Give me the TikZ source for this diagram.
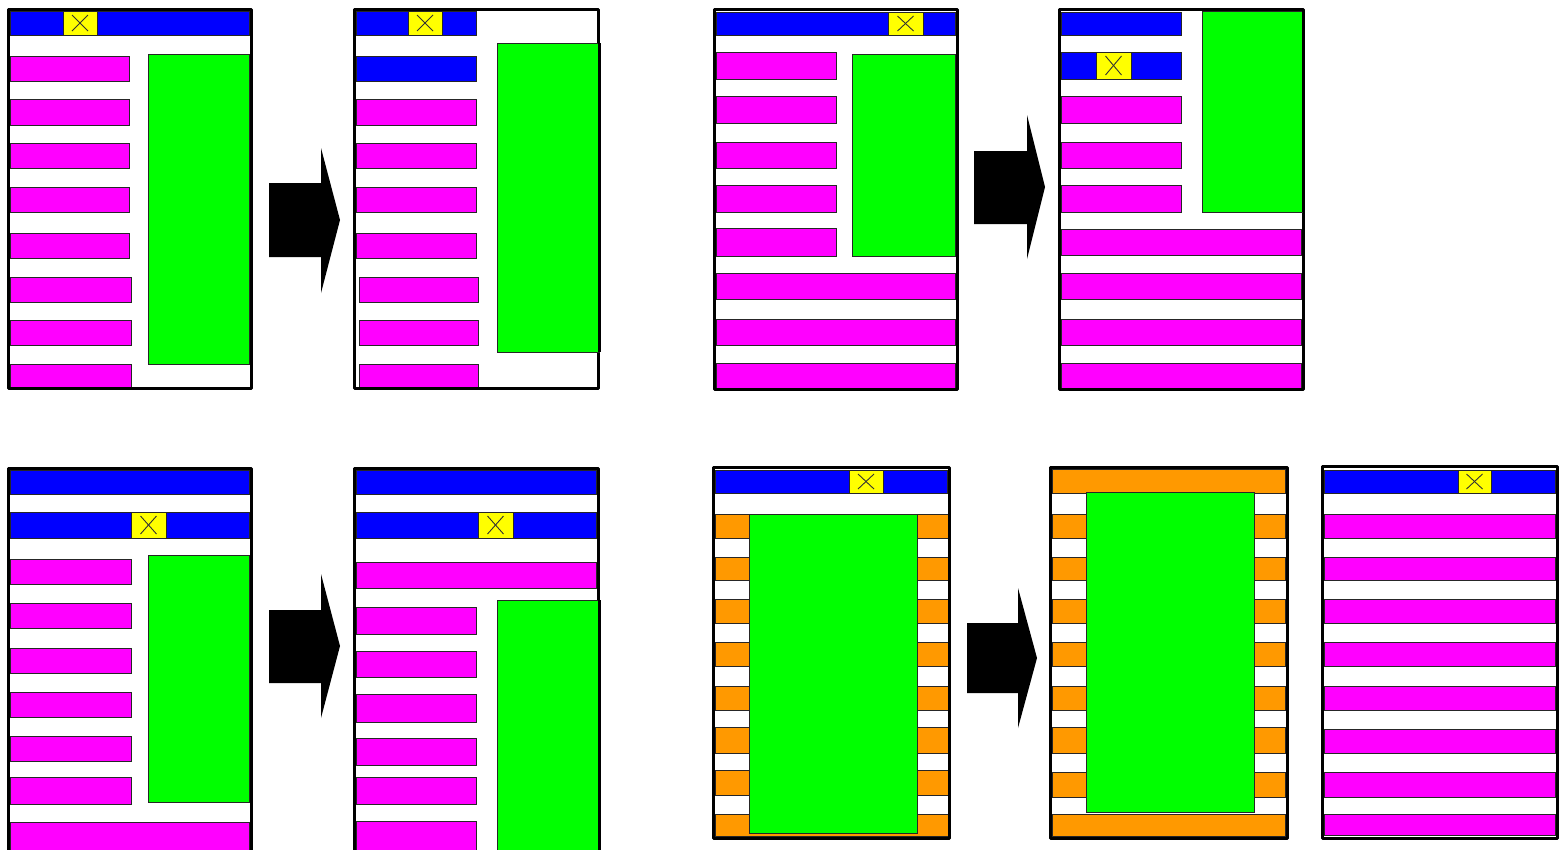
\documentclass[tikz,border=0pt]{standalone}
\usepackage{tikz}
\definecolor{cblue}{RGB}{0,0,255}
\definecolor{cmag}{RGB}{255,0,255}
\definecolor{cgreen}{RGB}{0,255,0}
\definecolor{cyel}{RGB}{255,255,0}
\definecolor{corange}{RGB}{255,153,0}
\tikzset{
  panelframe/.style={draw=black,line width=3pt,line join=round},
  panelbg/.style={fill=white},
  cell/.style={draw=black!85,line width=1pt},
  bluebar/.style={cell,fill=cblue},
  magbar/.style={cell,fill=cmag},
  greenbox/.style={cell,fill=cgreen},
  orangebar/.style={cell,fill=corange},
  closebox/.style={cell,fill=cyel},
  closecross/.style={draw=black!80,line width=0.9pt},
  greenedge/.style={draw=black,line width=3pt},
  blockarrow/.style={fill=black,draw=none}
}
\newcommand\myrect[5]{\path[#1] (#2,#3) rectangle (#4,#5);}
\newcommand\myclose[4]{%
  \path[closebox] (#1,#2) rectangle (#3,#4);
  \draw[closecross] ({(#1+#3)/2-8},{#2+4}) -- ({(#1+#3)/2+8},{#4-4});
  \draw[closecross] ({(#1+#3)/2-8},{#4-4}) -- ({(#1+#3)/2+8},{#2+4});}
\newcommand\myarrow[8]{%
  \path[blockarrow] (#1,#3) -- (#2,#3) -- (#2,#5) -- (#7,#8) -- (#2,#6) -- (#2,#4) -- (#1,#4) -- cycle;}
\begin{document}
\begin{tikzpicture}[x=1pt,y=-1pt]
\clip (0,0) rectangle (1562,849);
\fill[white] (0,0) rectangle (1562,849);

% ---------- Panel 1 ----------
\myrect{panelbg}{8}{9}{251}{388}
\myrect{bluebar}{10}{11}{249}{35}
\myclose{63}{11}{97}{35}
\foreach \a/\b in {56/81,99/125,143/168,187/212,233/258}{\myrect{magbar}{10}{\a}{129}{\b}}
\foreach \a/\b in {277/302,320/345,364/387}{\myrect{magbar}{10}{\a}{131}{\b}}
\myrect{greenbox}{148}{54}{249}{364}
\myrect{panelframe}{8}{9}{251}{388}

% ---------- Panel 2 ----------
\myrect{panelbg}{354}{9}{598}{388}
\myrect{bluebar}{356}{11}{476}{35}
\myclose{408}{11}{442}{35}
\myrect{bluebar}{356}{56}{476}{81}
\foreach \a/\b in {99/125,143/168,187/212,233/258}{\myrect{magbar}{356}{\a}{476}{\b}}
\foreach \a/\b in {277/302,320/345,364/387}{\myrect{magbar}{359}{\a}{478}{\b}}
\myrect{panelframe}{354}{9}{598}{388}
\myrect{greenbox}{497}{43}{599}{352}
\draw[greenedge] (599,43) -- (599,352);

% ---------- Panel 3 ----------
\myrect{panelbg}{714}{9}{957}{389}
\myrect{bluebar}{716}{12}{955}{35}
\myclose{888}{12}{923}{35}
\foreach \a/\b in {52/79,96/123,142/168,185/212,228/256}{\myrect{magbar}{716}{\a}{836}{\b}}
\myrect{greenbox}{852}{54}{955}{256}
\foreach \a/\b in {273/299,319/345,363/388}{\myrect{magbar}{716}{\a}{955}{\b}}
\myrect{panelframe}{714}{9}{957}{389}

% ---------- Panel 4 ----------
\myrect{panelbg}{1059}{9}{1303}{389}
\myrect{bluebar}{1061}{12}{1181}{35}
\myrect{bluebar}{1061}{52}{1181}{79}
\myclose{1096}{52}{1131}{79}
\foreach \a/\b in {96/123,142/168,185/212}{\myrect{magbar}{1061}{\a}{1181}{\b}}
\foreach \a/\b in {229/255,273/299,319/345,363/388}{\myrect{magbar}{1061}{\a}{1301}{\b}}
\myrect{panelframe}{1059}{9}{1303}{389}
\myrect{greenbox}{1202}{11}{1302}{212}
\draw[greenedge] (1303,10) -- (1303,212);

% ---------- Panel 5 ----------
\myrect{panelbg}{8}{468}{251}{856}
\myrect{bluebar}{10}{470}{249}{494}
\myrect{bluebar}{10}{512}{249}{538}
\myclose{131}{512}{166}{538}
\foreach \a/\b in {559/584,603/628,648/673,692/717,736/761,777/804}{\myrect{magbar}{10}{\a}{131}{\b}}
\myrect{greenbox}{148}{555}{249}{802}
\myrect{magbar}{10}{822}{249}{853}
\myrect{panelframe}{8}{468}{251}{856}

% ---------- Panel 6 ----------
\myrect{panelbg}{354}{468}{598}{856}
\myrect{bluebar}{356}{470}{596}{494}
\myrect{bluebar}{356}{512}{596}{538}
\myclose{478}{512}{513}{538}
\myrect{magbar}{356}{562}{596}{588}
\foreach \a/\b in {607/634,651/677,694/722,738/765,777/804,821/853}{\myrect{magbar}{356}{\a}{476}{\b}}
\myrect{panelframe}{354}{468}{598}{856}
\myrect{greenbox}{497}{600}{599}{856}
\draw[greenedge] (599,600) -- (599,856);

% ---------- Panel 7 ----------
\myrect{panelbg}{713}{467}{949}{838}
\myrect{bluebar}{715}{470}{947}{493}
\myclose{849}{470}{883}{493}
\foreach \a/\b in {514/538,557/580,599/623,642/666,686/710,727/753,770/795,814/836}{\myrect{orangebar}{715}{\a}{948}{\b}}
\myrect{greenbox}{749}{514}{917}{833}
\myrect{panelframe}{713}{467}{949}{838}

% ---------- Panel 8 ----------
\myrect{panelbg}{1050}{467}{1287}{838}
\myrect{orangebar}{1052}{469}{1285}{493}
\foreach \a/\b in {514/538,557/580,599/623,642/666,686/710,727/753,772/797,814/836}{\myrect{orangebar}{1052}{\a}{1285}{\b}}
\myrect{greenbox}{1086}{492}{1254}{812}
\myrect{panelframe}{1050}{467}{1287}{838}

% ---------- Panel 9 ----------
\myrect{panelbg}{1322}{466}{1557}{838}
\myrect{bluebar}{1324}{470}{1555}{493}
\myclose{1458}{470}{1491}{493}
\foreach \a/\b in {514/538,557/580,599/623,642/666,686/710,729/753,772/797,814/835}{\myrect{magbar}{1324}{\a}{1555}{\b}}
\myrect{panelframe}{1322}{466}{1557}{838}

% ---------- Arrows ----------
\myarrow{269}{321}{183}{257}{148}{293}{340}{220}
\myarrow{974}{1027}{151}{224}{115}{259}{1045}{187}
\myarrow{269}{321}{610}{683}{574}{718}{340}{646}
\myarrow{967}{1018}{623}{693}{588}{728}{1037}{658}
\end{tikzpicture}
\end{document}
